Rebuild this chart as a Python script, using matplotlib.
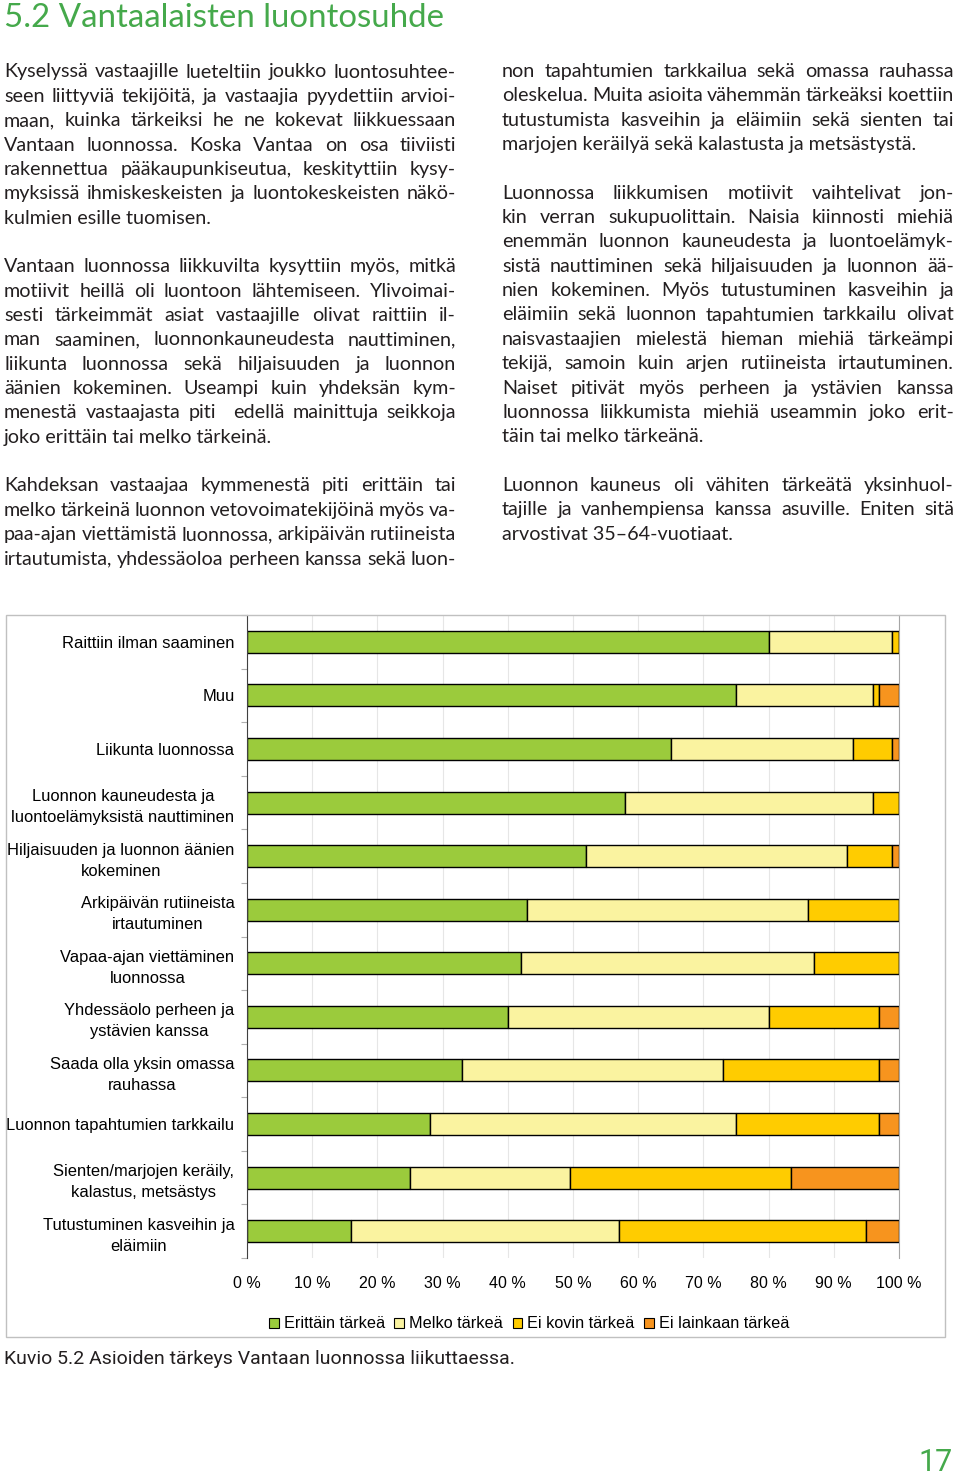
import numpy as np
import matplotlib
matplotlib.use("Agg")
import matplotlib.pyplot as plt
from matplotlib import font_manager
from matplotlib.patches import Patch, Rectangle

W_PX, H_PX = 960, 1475

# ---------------------------------------------------------------------------
# Chart data (shares in %)
# ---------------------------------------------------------------------------
categories = [
    "Raittiin ilman saaminen",
    "Muu",
    "Liikunta luonnossa",
    "Luonnon kauneudesta ja\nluontoelämyksistä nauttiminen",
    "Hiljaisuuden ja luonnon äänien\nkokeminen",
    "Arkipäivän rutiineista\nirtautuminen",
    "Vapaa-ajan viettäminen\nluonnossa",
    "Yhdessäolo perheen ja\nystävien kanssa",
    "Saada olla yksin omassa\nrauhassa",
    "Luonnon tapahtumien tarkkailu",
    "Sienten/marjojen keräily,\nkalastus, metsästys",
    "Tutustuminen kasveihin ja\neläimiin",
]
erittain = [80, 75, 65, 58, 52, 43, 42, 40, 33, 28, 25, 16]
melko = [19, 21, 28, 38, 40, 43, 45, 40, 40, 47, 24.5, 41]
ei_kovin = [1, 1, 6, 4, 7, 14, 13, 17, 24, 22, 34, 38]
ei_lainkaan = [0, 3, 1, 0, 1, 0, 0, 3, 3, 3, 16.5, 5]

series_names = ["Erittäin tärkeä", "Melko tärkeä", "Ei kovin tärkeä", "Ei lainkaan tärkeä"]
series_colors = ["#9bcb3c", "#faf3a0", "#ffcc00", "#f7941e"]
tick_values = list(range(0, 101, 10))
tick_labels = [f"{v} %" for v in tick_values]

# ---------------------------------------------------------------------------
# Page text
# ---------------------------------------------------------------------------
title = "5.2 Vantaalaisten luontosuhde"

left_paragraphs = [
    ["Kyselyssä vastaajille lueteltiin joukko luontosuhtee-",
     "seen liittyviä tekijöitä, ja vastaajia pyydettiin arvioi-",
     "maan, kuinka tärkeiksi he ne kokevat liikkuessaan",
     "Vantaan luonnossa. Koska Vantaa on osa tiiviisti",
     "rakennettua pääkaupunkiseutua, keskityttiin kysy-",
     "myksissä ihmiskeskeisten ja luontokeskeisten näkö-",
     "kulmien esille tuomisen."],
    ["Vantaan luonnossa liikkuvilta kysyttiin myös, mitkä",
     "motiivit heillä oli luontoon lähtemiseen. Ylivoimai-",
     "sesti tärkeimmät asiat vastaajille olivat raittiin il-",
     "man saaminen, luonnonkauneudesta nauttiminen,",
     "liikunta luonnossa sekä hiljaisuuden ja luonnon",
     "äänien kokeminen. Useampi kuin yhdeksän kym-",
     "menestä vastaajasta piti  edellä mainittuja seikkoja",
     "joko erittäin tai melko tärkeinä."],
    ["Kahdeksan vastaajaa kymmenestä piti erittäin tai",
     "melko tärkeinä luonnon vetovoimatekijöinä myös va-",
     "paa-ajan viettämistä luonnossa, arkipäivän rutiineista",
     "irtautumista, yhdessäoloa perheen kanssa sekä luon-"],
]
right_paragraphs = [
    ["non tapahtumien tarkkailua sekä omassa rauhassa",
     "oleskelua. Muita asioita vähemmän tärkeäksi koettiin",
     "tutustumista kasveihin ja eläimiin sekä sienten tai",
     "marjojen keräilyä sekä kalastusta ja metsästystä."],
    ["Luonnossa liikkumisen motiivit vaihtelivat jon-",
     "kin verran sukupuolittain. Naisia kiinnosti miehiä",
     "enemmän luonnon kauneudesta ja luontoelämyk-",
     "sistä nauttiminen sekä hiljaisuuden ja luonnon ää-",
     "nien kokeminen. Myös tutustuminen kasveihin ja",
     "eläimiin sekä luonnon tapahtumien tarkkailu olivat",
     "naisvastaajien mielestä hieman miehiä tärkeämpi",
     "tekijä, samoin kuin arjen rutiineista irtautuminen.",
     "Naiset pitivät myös perheen ja ystävien kanssa",
     "luonnossa liikkumista miehiä useammin joko erit-",
     "täin tai melko tärkeänä."],
    ["Luonnon kauneus oli vähiten tärkeätä yksinhuol-",
     "tajille ja vanhempiensa kanssa asuville. Eniten sitä",
     "arvostivat 35–64-vuotiaat."],
]
caption = "Kuvio 5.2 Asioiden tärkeys Vantaan luonnossa liikuttaessa."
page_number = "17"

GREEN = "#45a94b"
TEXT = "#231f20"


def pick_font(cands):
    names = {f.name for f in font_manager.fontManager.ttflist}
    for c in cands:
        if c in names:
            return c
    return "DejaVu Sans"


BODY_FONT = pick_font(["Lato", "Open Sans", "Noto Sans"])
CHART_FONT = pick_font(["Liberation Sans", "Arial"])
NARROW_FONT = pick_font(["Liberation Sans Narrow", "DejaVu Sans Condensed", "Roboto"])

fig = plt.figure(figsize=(W_PX / 100, H_PX / 100), dpi=100)
fig.patch.set_facecolor("white")
renderer = fig.canvas.get_renderer()


def fx(x):
    return x / W_PX


def fy(y):
    return 1 - y / H_PX


def text_width(s, **kw):
    t = fig.text(0, 0, s, **kw)
    w = t.get_window_extent(renderer).width
    t.remove()
    return w


def fit_size(s, width, size, **kw):
    return size * width / text_width(s, fontsize=size, **kw)


def justify(line, x0, x1, y, **kw):
    words = line.split(" ")
    widths = [text_width(w, **kw) if w else 0 for w in words]
    gap = (x1 - x0 - sum(widths)) / max(len(words) - 1, 1)
    x = x0
    for w, wd in zip(words, widths):
        if w:
            fig.text(fx(x), fy(y), w, ha="left", va="baseline", **kw)
        x += wd + gap


def draw_column(paragraphs, x0, x1, y0, step, **kw):
    row = 0
    for para in paragraphs:
        for i, line in enumerate(para):
            y = y0 + row * step
            if i == len(para) - 1 and not line.endswith("-"):
                fig.text(fx(x0), fy(y), line, ha="left", va="baseline", **kw)
            else:
                justify(line, x0, x1, y, **kw)
            row += 1
        row += 1


# --- title --------------------------------------------------------------------
ts = fit_size(title, 439, 22, family=BODY_FONT)
fig.text(fx(4), fy(27), title, fontsize=ts, family=BODY_FONT, color=GREEN,
         ha="left", va="baseline")

# --- body text: largest size where every line fits with slightly tight spaces --
base = 15.0
col_w = 452
space_w = text_width("a a", fontsize=base, family=BODY_FONT) - text_width("aa", fontsize=base, family=BODY_FONT)
need = []
for p in left_paragraphs + right_paragraphs:
    for l in p:
        words = [w for w in l.split(" ")]
        ww = sum(text_width(w, fontsize=base, family=BODY_FONT) for w in words if w)
        need.append(ww + (len(words) - 1) * 0.72 * space_w)
body_size = min(base, base * col_w / max(need))
body_kw = dict(fontsize=body_size, family=BODY_FONT, color=TEXT)
draw_column(left_paragraphs, 4, 456, 77.5, 24.35, **body_kw)
draw_column(right_paragraphs, 502, 954, 77.0, 24.35, **body_kw)

# --- chart frame --------------------------------------------------------------
fig.patches.append(Rectangle((fx(6), fy(1337)), (945 - 6) / W_PX, (1337 - 615) / H_PX,
                             transform=fig.transFigure, fill=False,
                             edgecolor="#c0c0c0", linewidth=1))

ax = fig.add_axes([fx(247), fy(1258), (899 - 247) / W_PX, (1258 - 615) / H_PX])
ypos = np.arange(len(categories))
left = np.zeros(len(categories))
handles = []
for vals, name, col in zip([erittain, melko, ei_kovin, ei_lainkaan], series_names, series_colors):
    ax.barh(ypos, vals, left=left, height=0.41, color=col, edgecolor="black",
            linewidth=1.0)
    left += np.array(vals)
    handles.append(Patch(facecolor=col, edgecolor="black", linewidth=0.8, label=name))

ax.set_xlim(0, 100)
ax.set_ylim(len(categories) - 0.5, -0.5)
ax.set_axisbelow(True)
ax.grid(axis="x", color="#e6e6e6", linewidth=0.8)
for s in ["top", "bottom"]:
    ax.spines[s].set_visible(False)
ax.spines["left"].set_color("#404040")
ax.spines["right"].set_color("#a6a6a6")

ax.set_xticks(tick_values, tick_labels)
ax.tick_params(axis="x", length=0, pad=13, labelsize=11.5)
ax.set_yticks(ypos, categories)
ax.set_yticks(np.arange(-0.5, len(categories), 1), minor=True)
ax.tick_params(axis="y", which="major", length=0, pad=9, labelsize=11.9)
ax.tick_params(axis="y", which="minor", length=4, color="#b0b0b0", width=0.8)
for lbl in ax.get_yticklabels() + ax.get_xticklabels():
    lbl.set_family(CHART_FONT)
    lbl.set_color("black")
for lbl in ax.get_yticklabels():
    lbl.set_multialignment("center")
    lbl.set_linespacing(1.5)

fig.legend(handles=handles, loc="center", bbox_to_anchor=(fx(529), fy(1324)),
           ncol=4, frameon=False, handlelength=0.6, handleheight=0.6,
           handletextpad=0.3, columnspacing=0.6, borderaxespad=0,
           prop=dict(family=CHART_FONT, size=11.7))

# --- caption and page number --------------------------------------------------
cs = fit_size(caption, 511, 14, family=NARROW_FONT)
fig.text(fx(4), fy(1364), caption, fontsize=cs, family=NARROW_FONT, color=TEXT,
         ha="left", va="baseline")
fig.text(fx(953), fy(1471), page_number, fontsize=22, family=NARROW_FONT,
         color=GREEN, ha="right", va="baseline")

fig.savefig("out.png", dpi=100, facecolor="white")
